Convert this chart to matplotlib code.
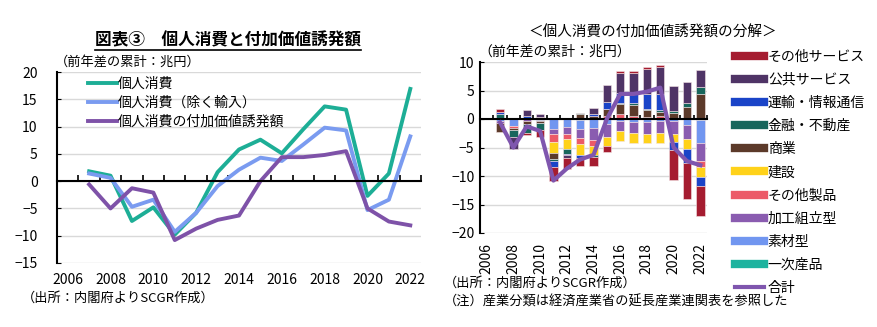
import numpy as np
import matplotlib
matplotlib.use('Agg')
import matplotlib.pyplot as plt
from matplotlib.lines import Line2D

plt.rcParams['font.family'] = ['Noto Sans CJK JP', 'DejaVu Sans']

W, H = 877, 327

years = list(range(2006, 2023))
line_years = years[1:]

# left chart: cumulative change (trillion yen)
consumption = [1.8, 1.0, -7.3, -4.8, -9.8, -5.8, 1.65, 5.8, 7.6, 5.1, 9.5, 13.7, 13.1, -2.7, 1.4, 16.9]
consumption_ex_imp = [1.4, 0.6, -4.7, -3.4, -9.3, -5.8, -0.9, 2.1, 4.3, 3.7, 6.7, 9.8, 9.3, -5.3, -3.4, 8.2]
value_added = [-0.6, -5.0, -1.3, -2.1, -10.8, -8.7, -7.1, -6.3, 0.0, 4.4, 4.4, 4.8, 5.5, -5.0, -7.4, -8.1]

# right chart: breakdown by industry, 2007-2022
primary   = [0, 0, 0, -0.1, 0, 0, -0.1, 0, 0, 0, 0, 0, 0, 0, 0, -0.15]
materials = [-0.3, -1.2, 0, -0.2, -1.75, -1.4, -1.65, -1.6, -0.8, -0.4, -0.55, -0.5, -0.4, -0.3, -1.05, -4.1]
assembly  = [-0.4, 0, -0.35, 0, -0.95, -1.2, -1.55, -2.0, -2.35, -1.75, -1.9, -2.05, -2.0, -2.3, -2.45, -3.05]
other_mfg = [0.25, -0.3, 0.2, 0.35, -1.3, -0.95, -1.05, -1.1, 0.45, 0.9, 0.6, 0.3, 0.5, 0, 0, -1.05]
construct = [0, 0, 0, 0, -1.9, -1.8, -1.95, -1.6, -1.65, -1.75, -1.75, -1.7, -1.75, -1.5, -1.75, -1.75]
commerce  = [-1.6, -0.4, -0.5, -0.4, -1.05, 0, 0.8, 0.6, 1.3, 1.65, 1.9, 1.2, 0.75, 1.05, 2.05, 4.3]
finance   = [0.6, -1.3, -1.6, -1.2, -0.35, -0.8, 0.2, -0.3, 0, 0.3, 0.3, 0.3, 0.4, 0.3, 0.75, 1.35]
transport = [0.35, 0, 0.25, 0, -1.05, -0.2, -0.6, 0.3, 1.2, 1.65, 1.5, 2.65, 2.75, -1.4, -2.45, -1.6]
public    = [0, -2.0, 1.05, 0.6, 0, -0.5, 0, 1.0, 3.0, 3.5, 3.8, 4.3, 4.75, 4.4, 3.7, 2.95]
other_svc = [0.5, 0.2, -0.35, -1.3, -2.6, -1.9, -1.4, -1.6, -1.05, 0.35, 0.4, 0.3, 0.4, -5.2, -6.3, -5.25]

series = [
    ('一次産品', primary, '#1DB39F'),
    ('素材型', materials, '#7196F0'),
    ('加工組立型', assembly, '#8A5CB0'),
    ('その他製品', other_mfg, '#EC5A68'),
    ('建設', construct, '#FFD21A'),
    ('商業', commerce, '#5C3A2A'),
    ('金融・不動産', finance, '#17665C'),
    ('運輸・情報通信', transport, '#1A44C8'),
    ('公共サービス', public, '#4F3466'),
    ('その他サービス', other_svc, '#A51C30'),
]


def fx(px):
    return px / W


def fy(py):
    return 1 - py / H


fig = plt.figure(figsize=(W / 100, H / 100), dpi=100)

# ---- left: consumption vs value added ----
ax1 = fig.add_axes([fx(57), fy(263), fx(421) - fx(57), fy(72) - fy(263)])
xl = [y - 2006 for y in line_years]
ax1.plot(xl, consumption, color='#1DAE96', lw=2.8, label='個人消費')
ax1.plot(xl, consumption_ex_imp, color='#7A9BF0', lw=2.8, label='個人消費（除く輸入）')
ax1.plot(xl, value_added, color='#7E52A8', lw=2.8, label='個人消費の付加価値誘発額')
ax1.set_xlim(-0.5, 16.5)
ax1.set_ylim(-15, 20)
ax1.set_yticks(np.arange(-15, 21, 5))
ax1.grid(axis='y', color='#D9D9D9', lw=1)
ax1.set_axisbelow(True)
for s in ['top', 'right']:
    ax1.spines[s].set_visible(False)
ax1.spines['bottom'].set_position(('data', 0))
ax1.spines['bottom'].set_linewidth(1.5)
ax1.spines['left'].set_linewidth(1.5)
ax1.set_xticks(np.arange(-0.5, 17, 1))
ax1.tick_params(axis='x', direction='in', length=4, width=1.2, labelbottom=False)
ax1.tick_params(axis='y', direction='in', length=3, labelsize=10, pad=14)
for y in years[::2]:
    ax1.text(y - 2006, -0.09, str(y), transform=ax1.get_xaxis_transform(),
             ha='center', va='center', fontsize=10)
ax1.legend(loc='upper left', bbox_to_anchor=(0.05, 1.04), frameon=False,
           fontsize=10, handlelength=2.1, handletextpad=0.1, labelspacing=0.35)

title = fig.text(fx(228), fy(40), '図表③　個人消費と付加価値誘発額', ha='center', va='center',
                 fontsize=12, fontweight='bold')
fig.text(fx(55), fy(62), '（前年差の累計：兆円）', ha='left', va='center', fontsize=9.5)
fig.text(fx(22), fy(298), '（出所：内閣府よりSCGR作成）', ha='left', va='center', fontsize=9.5)

# ---- right: breakdown of value added ----
ax2 = fig.add_axes([fx(480), fy(233), fx(707) - fx(480), fy(62) - fy(233)])
xb = np.array([y - 2006 for y in line_years])
pos_base = np.zeros(len(xb))
neg_base = np.zeros(len(xb))
for name, vals, color in series:
    v = np.array(vals, dtype=float)
    bottom = np.where(v >= 0, pos_base, neg_base)
    ax2.bar(xb, v, 0.63, bottom=bottom, color=color, edgecolor='#F4E4E6', lw=0.4)
    pos_base += np.where(v >= 0, v, 0)
    neg_base += np.where(v < 0, v, 0)
ax2.plot(xb, value_added, color='#7F56AE', lw=3, zorder=5)
ax2.set_xlim(-0.5, 16.5)
ax2.set_ylim(-20, 10)
ax2.set_yticks(np.arange(-20, 11, 5))
ax2.grid(axis='y', color='#D9D9D9', lw=1)
ax2.set_axisbelow(True)
for s in ['top', 'right']:
    ax2.spines[s].set_visible(False)
ax2.spines['bottom'].set_position(('data', 0))
ax2.spines['bottom'].set_linewidth(1.5)
ax2.spines['left'].set_linewidth(1.5)
ax2.set_xticks(np.arange(-0.5, 17, 1))
ax2.tick_params(axis='x', direction='in', length=3, width=1.2, labelbottom=False)
ax2.tick_params(axis='y', direction='in', length=3, labelsize=10, pad=4)
for y in years[::2]:
    ax2.text(y - 2006, -0.06, str(y), transform=ax2.get_xaxis_transform(),
             ha='center', va='top', rotation=90, fontsize=10)

handles = [Line2D([], [], color=c, lw=6) for _, _, c in series[::-1]]
handles.append(Line2D([], [], color='#7F56AE', lw=3))
labels = [n for n, _, _ in series[::-1]] + ['合計']
fig.legend(handles, labels, loc='upper left', bbox_to_anchor=(fx(722), fy(37)),
           frameon=False, fontsize=10, handlelength=2.1, handletextpad=0.3,
           labelspacing=0.66)

fig.text(fx(653), fy(33), '＜個人消費の付加価値誘発額の分解＞', ha='center', va='center', fontsize=10.5)
fig.text(fx(478), fy(52), '（前年差の累計：兆円）', ha='left', va='center', fontsize=10)
fig.text(fx(444), fy(283), '（出所：内閣府よりSCGR作成）', ha='left', va='center', fontsize=9.5)
fig.text(fx(444), fy(302), '（注）産業分類は経済産業省の延長産業連関表を参照した', ha='left', va='center',
         fontsize=9.5)

# underline under the left title
fig.canvas.draw()
bb = title.get_window_extent().transformed(fig.transFigure.inverted())
fig.add_artist(Line2D([bb.x0, bb.x1], [bb.y0 - 0.004, bb.y0 - 0.004],
                      transform=fig.transFigure, color='black', lw=1.2))

fig.savefig('out.png', dpi=100)
